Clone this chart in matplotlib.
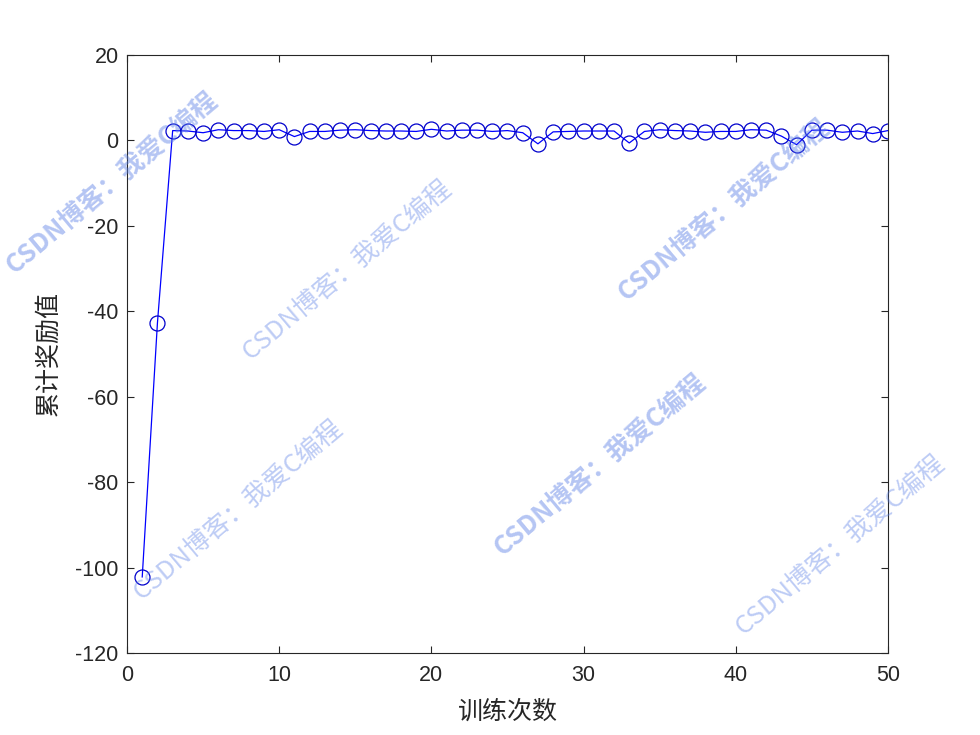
import matplotlib
matplotlib.use("Agg")
import matplotlib.pyplot as plt

plt.rcParams['font.family'] = ['Liberation Sans', 'Noto Sans CJK SC', 'DejaVu Sans']
plt.rcParams['axes.unicode_minus'] = False

episodes = list(range(1, 51))
rewards = [-102.2, -42.7, 2.3, 2.2, 1.8, 2.5, 2.3, 2.3, 2.1, 2.5,
           0.9, 2.1, 2.1, 2.4, 2.5, 2.3, 2.2, 2.2, 2.1, 2.6,
           2.2, 2.4, 2.4, 2.1, 2.3, 1.8, -0.8, 2.0, 2.1, 2.2,
           2.2, 2.2, -0.6, 2.1, 2.5, 2.3, 2.2, 1.9, 2.1, 2.1,
           2.5, 2.4, 1.0, -1.0, 2.4, 2.4, 1.9, 2.2, 1.6, 2.3]
xlabel = "训练次数"
ylabel = "累计奖励值"
watermark = "CSDN博客：我爱C编程"
xticks = [0, 10, 20, 30, 40, 50]
yticks = [-120, -100, -80, -60, -40, -20, 0, 20]

fig = plt.figure(figsize=(9.8, 7.35), dpi=100)
ax = fig.add_axes([0.1296, 0.1116, 0.7765, 0.8136])
ax.plot(episodes, rewards, color='#0000ff', linewidth=0.9, marker='o',
        markersize=10.8, markerfacecolor='none', markeredgecolor='#0000cc',
        markeredgewidth=0.9)
ax.set_xlim(0, 50)
ax.set_ylim(-120, 20)
ax.set_xticks(xticks)
ax.set_yticks(yticks)
ax.tick_params(direction='in', length=5, width=0.8, labelsize=15.5,
               top=True, right=True, colors='#262626')
ax.tick_params(axis='x', pad=9)
ax.tick_params(axis='y', pad=6)
for s in ax.spines.values():
    s.set_linewidth(0.8)
    s.set_color('#262626')
ax.set_xlabel(xlabel, fontsize=18, family=['Noto Sans CJK SC'], color='#262626', labelpad=9)
ax.set_ylabel(ylabel, fontsize=18, family=['Noto Sans CJK SC'], color='#262626', labelpad=10)

marks = [
    (112, 183, True),
    (347, 270, False),
    (724, 210, True),
    (238, 510, False),
    (600, 465, True),
    (840, 545, False),
]
for px, py, bold in marks:
    fig.text(px / 980, 1 - py / 735, watermark, rotation=40,
             rotation_mode='anchor', ha='center', va='center',
             fontsize=18.5, family=['Noto Sans CJK SC', 'DejaVu Sans'],
             fontweight='bold' if bold else 'normal',
             color='#5a7fe6', alpha=0.45 if bold else 0.4, zorder=10)

fig.savefig("out.png", dpi=100)
